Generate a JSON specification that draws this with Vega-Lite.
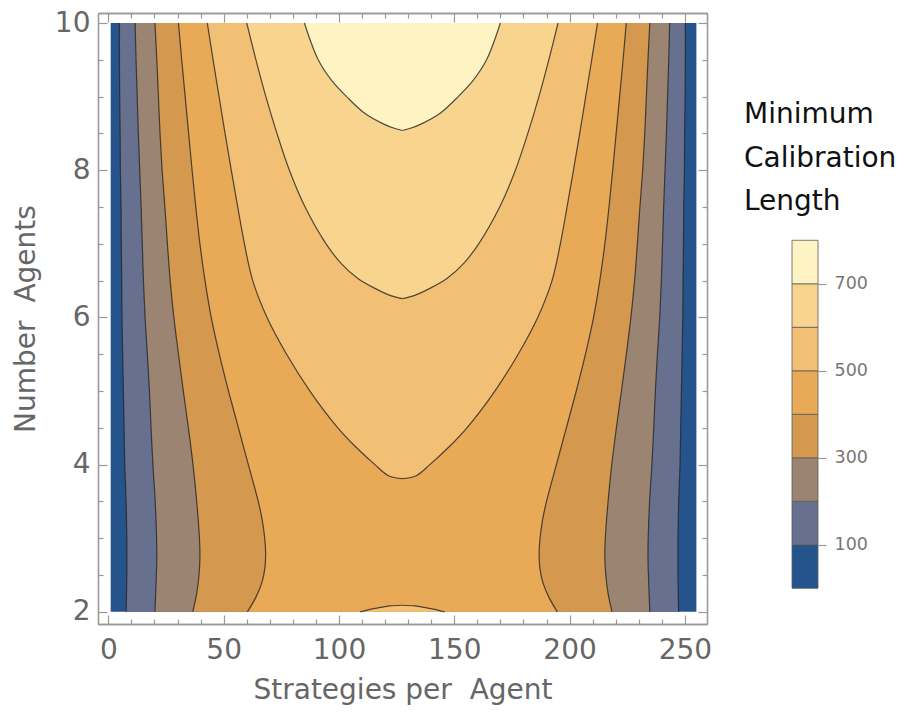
{
  "$schema": "https://vega.github.io/schema/vega-lite/v6.json",
  "padding": {"left": 12, "top": 9, "right": 5, "bottom": 5},
  "bounds": "flush",
  "spacing": 85,
  "config": {
    "view": {"stroke": null},
    "axis": {"domainColor": "#999", "domainWidth": 1.3, "tickColor": "#999", "tickWidth": 1.2, "grid": false,
             "labelFont": "DejaVu Sans", "titleFont": "DejaVu Sans", "labelColor": "#666", "titleColor": "#666",
             "titleFontWeight": "normal", "labelOverlap": false, "labelFlush": false}
  },
  "hconcat": [
    {
      "width": 609,
      "height": 611,
      "data": {"values": [
        {"part": "b0", "level": 0, "y": 2, "xl": 1, "xr": 255},
        {"part": "b0", "level": 0, "y": 10, "xl": 1, "xr": 255},

        {"part": "b100", "level": 100, "y": 2, "xl": 7.7, "xr": 247.3},
        {"part": "b100", "level": 100, "y": 2.5, "xl": 8.0, "xr": 247.0},
        {"part": "b100", "level": 100, "y": 3, "xl": 8.0, "xr": 247.0},
        {"part": "b100", "level": 100, "y": 3.5, "xl": 7.7, "xr": 247.3},
        {"part": "b100", "level": 100, "y": 4, "xl": 7.1, "xr": 247.9},
        {"part": "b100", "level": 100, "y": 4.5, "xl": 6.8, "xr": 248.2},
        {"part": "b100", "level": 100, "y": 5, "xl": 6.5, "xr": 248.5},
        {"part": "b100", "level": 100, "y": 5.5, "xl": 6.2, "xr": 248.8},
        {"part": "b100", "level": 100, "y": 6, "xl": 5.9, "xr": 249.1},
        {"part": "b100", "level": 100, "y": 6.5, "xl": 5.8, "xr": 249.2},
        {"part": "b100", "level": 100, "y": 7, "xl": 5.6, "xr": 249.4},
        {"part": "b100", "level": 100, "y": 7.5, "xl": 5.5, "xr": 249.5},
        {"part": "b100", "level": 100, "y": 8, "xl": 5.2, "xr": 249.8},
        {"part": "b100", "level": 100, "y": 8.5, "xl": 5.1, "xr": 249.9},
        {"part": "b100", "level": 100, "y": 9, "xl": 4.9, "xr": 250.1},
        {"part": "b100", "level": 100, "y": 9.5, "xl": 4.8, "xr": 250.2},
        {"part": "b100", "level": 100, "y": 10, "xl": 4.8, "xr": 250.2},

        {"part": "b200", "level": 200, "y": 2, "xl": 20.2, "xr": 234.8},
        {"part": "b200", "level": 200, "y": 2.5, "xl": 20.8, "xr": 234.2},
        {"part": "b200", "level": 200, "y": 2.75, "xl": 21.0, "xr": 234.0},
        {"part": "b200", "level": 200, "y": 3, "xl": 20.9, "xr": 234.1},
        {"part": "b200", "level": 200, "y": 3.5, "xl": 20.3, "xr": 234.7},
        {"part": "b200", "level": 200, "y": 4, "xl": 19.3, "xr": 235.7},
        {"part": "b200", "level": 200, "y": 4.5, "xl": 18.5, "xr": 236.5},
        {"part": "b200", "level": 200, "y": 5, "xl": 17.8, "xr": 237.2},
        {"part": "b200", "level": 200, "y": 5.5, "xl": 16.9, "xr": 238.1},
        {"part": "b200", "level": 200, "y": 6, "xl": 15.9, "xr": 239.1},
        {"part": "b200", "level": 200, "y": 6.5, "xl": 15.2, "xr": 239.8},
        {"part": "b200", "level": 200, "y": 7, "xl": 14.7, "xr": 240.3},
        {"part": "b200", "level": 200, "y": 7.5, "xl": 14.2, "xr": 240.8},
        {"part": "b200", "level": 200, "y": 8, "xl": 13.6, "xr": 241.4},
        {"part": "b200", "level": 200, "y": 8.5, "xl": 13.0, "xr": 242.0},
        {"part": "b200", "level": 200, "y": 9, "xl": 12.5, "xr": 242.5},
        {"part": "b200", "level": 200, "y": 9.5, "xl": 12.0, "xr": 243.0},
        {"part": "b200", "level": 200, "y": 10, "xl": 11.6, "xr": 243.4},

        {"part": "b300", "level": 300, "y": 2, "xl": 36.6, "xr": 218.4},
        {"part": "b300", "level": 300, "y": 2.25, "xl": 38.3, "xr": 216.7},
        {"part": "b300", "level": 300, "y": 2.5, "xl": 39.3, "xr": 215.7},
        {"part": "b300", "level": 300, "y": 2.75, "xl": 39.7, "xr": 215.3},
        {"part": "b300", "level": 300, "y": 3, "xl": 39.5, "xr": 215.5},
        {"part": "b300", "level": 300, "y": 3.5, "xl": 38.3, "xr": 216.7},
        {"part": "b300", "level": 300, "y": 4, "xl": 36.7, "xr": 218.3},
        {"part": "b300", "level": 300, "y": 4.5, "xl": 34.7, "xr": 220.3},
        {"part": "b300", "level": 300, "y": 5, "xl": 32.5, "xr": 222.5},
        {"part": "b300", "level": 300, "y": 5.5, "xl": 30.4, "xr": 224.6},
        {"part": "b300", "level": 300, "y": 6, "xl": 28.4, "xr": 226.6},
        {"part": "b300", "level": 300, "y": 6.5, "xl": 26.8, "xr": 228.2},
        {"part": "b300", "level": 300, "y": 7, "xl": 25.6, "xr": 229.4},
        {"part": "b300", "level": 300, "y": 7.5, "xl": 24.5, "xr": 230.5},
        {"part": "b300", "level": 300, "y": 8, "xl": 23.3, "xr": 231.7},
        {"part": "b300", "level": 300, "y": 8.5, "xl": 22.4, "xr": 232.6},
        {"part": "b300", "level": 300, "y": 9, "xl": 21.7, "xr": 233.3},
        {"part": "b300", "level": 300, "y": 9.5, "xl": 21.0, "xr": 234.0},
        {"part": "b300", "level": 300, "y": 10, "xl": 20.2, "xr": 234.8},

        {"part": "b400", "level": 400, "y": 2, "xl": 60.3, "xr": 194.7},
        {"part": "b400", "level": 400, "y": 2.2, "xl": 64.0, "xr": 191.0},
        {"part": "b400", "level": 400, "y": 2.4, "xl": 66.6, "xr": 188.4},
        {"part": "b400", "level": 400, "y": 2.6, "xl": 67.9, "xr": 187.1},
        {"part": "b400", "level": 400, "y": 2.8, "xl": 68.2, "xr": 186.8},
        {"part": "b400", "level": 400, "y": 3, "xl": 67.8, "xr": 187.2},
        {"part": "b400", "level": 400, "y": 3.25, "xl": 66.7, "xr": 188.3},
        {"part": "b400", "level": 400, "y": 3.5, "xl": 65.0, "xr": 190.0},
        {"part": "b400", "level": 400, "y": 4, "xl": 60.7, "xr": 194.3},
        {"part": "b400", "level": 400, "y": 4.5, "xl": 56.4, "xr": 198.6},
        {"part": "b400", "level": 400, "y": 5, "xl": 52.1, "xr": 202.9},
        {"part": "b400", "level": 400, "y": 5.5, "xl": 48.1, "xr": 206.9},
        {"part": "b400", "level": 400, "y": 6, "xl": 44.6, "xr": 210.4},
        {"part": "b400", "level": 400, "y": 6.5, "xl": 41.9, "xr": 213.1},
        {"part": "b400", "level": 400, "y": 7, "xl": 39.7, "xr": 215.3},
        {"part": "b400", "level": 400, "y": 7.5, "xl": 37.9, "xr": 217.1},
        {"part": "b400", "level": 400, "y": 8, "xl": 36.3, "xr": 218.7},
        {"part": "b400", "level": 400, "y": 8.5, "xl": 34.8, "xr": 220.2},
        {"part": "b400", "level": 400, "y": 9, "xl": 33.3, "xr": 221.7},
        {"part": "b400", "level": 400, "y": 9.5, "xl": 31.8, "xr": 223.2},
        {"part": "b400", "level": 400, "y": 10, "xl": 30.4, "xr": 224.6},

        {"part": "b500", "level": 500, "y": 3.81, "xl": 127.5, "xr": 127.5},
        {"part": "b500", "level": 500, "y": 3.85, "xl": 121.5, "xr": 133.5},
        {"part": "b500", "level": 500, "y": 4.0, "xl": 115.6, "xr": 139.4},
        {"part": "b500", "level": 500, "y": 4.25, "xl": 107.0, "xr": 148.0},
        {"part": "b500", "level": 500, "y": 4.5, "xl": 99.5, "xr": 155.5},
        {"part": "b500", "level": 500, "y": 5, "xl": 87.4, "xr": 167.6},
        {"part": "b500", "level": 500, "y": 5.5, "xl": 77.3, "xr": 177.7},
        {"part": "b500", "level": 500, "y": 6, "xl": 68.8, "xr": 186.2},
        {"part": "b500", "level": 500, "y": 6.5, "xl": 62.6, "xr": 192.4},
        {"part": "b500", "level": 500, "y": 7, "xl": 59.0, "xr": 196.0},
        {"part": "b500", "level": 500, "y": 7.5, "xl": 56.1, "xr": 198.9},
        {"part": "b500", "level": 500, "y": 8, "xl": 53.3, "xr": 201.7},
        {"part": "b500", "level": 500, "y": 8.5, "xl": 50.6, "xr": 204.4},
        {"part": "b500", "level": 500, "y": 9, "xl": 48.0, "xr": 207.0},
        {"part": "b500", "level": 500, "y": 9.5, "xl": 45.4, "xr": 209.6},
        {"part": "b500", "level": 500, "y": 10, "xl": 42.9, "xr": 212.1},

        {"part": "s500", "level": 500, "y": 2, "xl": 109.2, "xr": 145.8},
        {"part": "s500", "level": 500, "y": 2.03, "xl": 113.0, "xr": 142.0},
        {"part": "s500", "level": 500, "y": 2.06, "xl": 118.0, "xr": 137.0},
        {"part": "s500", "level": 500, "y": 2.08, "xl": 122.0, "xr": 133.0},
        {"part": "s500", "level": 500, "y": 2.09, "xl": 127.5, "xr": 127.5},

        {"part": "b600", "level": 600, "y": 6.255, "xl": 127.5, "xr": 127.5},
        {"part": "b600", "level": 600, "y": 6.3, "xl": 122.1, "xr": 132.9},
        {"part": "b600", "level": 600, "y": 6.395, "xl": 115.6, "xr": 139.4},
        {"part": "b600", "level": 600, "y": 6.53, "xl": 108.2, "xr": 146.8},
        {"part": "b600", "level": 600, "y": 6.735, "xl": 100.9, "xr": 154.1},
        {"part": "b600", "level": 600, "y": 7, "xl": 94.4, "xr": 160.6},
        {"part": "b600", "level": 600, "y": 7.5, "xl": 85.3, "xr": 169.7},
        {"part": "b600", "level": 600, "y": 8, "xl": 78.5, "xr": 176.5},
        {"part": "b600", "level": 600, "y": 8.5, "xl": 73.1, "xr": 181.9},
        {"part": "b600", "level": 600, "y": 9, "xl": 68.3, "xr": 186.7},
        {"part": "b600", "level": 600, "y": 9.5, "xl": 64.0, "xr": 191.0},
        {"part": "b600", "level": 600, "y": 10, "xl": 60.0, "xr": 195.0},

        {"part": "b700", "level": 700, "y": 8.54, "xl": 127.5, "xr": 127.5},
        {"part": "b700", "level": 700, "y": 8.57, "xl": 124.0, "xr": 131.0},
        {"part": "b700", "level": 700, "y": 8.63, "xl": 119.2, "xr": 135.8},
        {"part": "b700", "level": 700, "y": 8.77, "xl": 111.3, "xr": 143.7},
        {"part": "b700", "level": 700, "y": 9.0, "xl": 103.3, "xr": 151.7},
        {"part": "b700", "level": 700, "y": 9.22, "xl": 96.8, "xr": 158.2},
        {"part": "b700", "level": 700, "y": 9.5, "xl": 91.0, "xr": 164.0},
        {"part": "b700", "level": 700, "y": 10, "xl": 85.0, "xr": 170.0}
      ]},
      "resolve": {"axis": {"x": "independent", "y": "independent"}},
      "layer": [
        {
          "transform": [{"filter": "datum.level === 0"}],
          "mark": {"type": "area", "orient": "horizontal", "interpolate": "linear"},
          "encoding": {
            "y": {"field": "y", "type": "quantitative",
                  "scale": {"domain": [1.835, 10.136], "nice": false, "zero": false},
                  "axis": {"orient": "left", "values": [2, 4, 6, 8, 10], "format": "d", "tickSize": -9,
                           "labelFontSize": 28, "labelPadding": 17,
                           "title": "Number\u00a0 Agents", "titleFontSize": 28, "titlePadding": 14}},
            "x": {"field": "xl", "type": "quantitative",
                  "scale": {"domain": [-4.5, 259.6], "nice": false, "zero": false},
                  "axis": {"orient": "bottom", "values": [0, 50, 100, 150, 200, 250], "format": "d", "tickSize": -9,
                           "labelFontSize": 28, "labelPadding": 21,
                           "title": "Strategies per\u00a0 Agent", "titleFontSize": 28, "titlePadding": 12}},
            "x2": {"field": "xr"},
            "color": {"field": "level", "type": "ordinal",
                      "scale": {"domain": [0, 100, 200, 300, 400, 500, 600, 700],
                                "range": ["#25538b", "#67708f", "#9c8472", "#d4994f", "#e8aa57", "#f2c074", "#f9d48e", "#fef3c2"]},
                      "legend": null}
          }
        },
        {
          "transform": [{"filter": "datum.level > 0"}],
          "mark": {"type": "area", "orient": "horizontal", "interpolate": "catmull-rom"},
          "encoding": {
            "y": {"field": "y", "type": "quantitative",
                  "scale": {"domain": [1.835, 10.136], "nice": false, "zero": false},
                  "axis": {"orient": "left", "values": [2.5, 3, 3.5, 4.5, 5, 5.5, 6.5, 7, 7.5, 8.5, 9, 9.5],
                           "tickSize": -5, "labels": false, "title": null}},
            "x": {"field": "xl", "type": "quantitative",
                  "scale": {"domain": [-4.5, 259.6], "nice": false, "zero": false},
                  "axis": {"orient": "bottom", "values": [10, 20, 30, 40, 60, 70, 80, 90, 110, 120, 130, 140, 160, 170, 180, 190, 210, 220, 230, 240],
                           "tickSize": -5, "labels": false, "title": null}},
            "x2": {"field": "xr"},
            "color": {"field": "level", "type": "ordinal",
                      "scale": {"domain": [0, 100, 200, 300, 400, 500, 600, 700],
                                "range": ["#25538b", "#67708f", "#9c8472", "#d4994f", "#e8aa57", "#f2c074", "#f9d48e", "#fef3c2"]},
                      "legend": null},
            "detail": {"field": "part"}
          }
        },
        {
          "transform": [{"filter": "datum.level > 0"}],
          "mark": {"type": "line", "interpolate": "catmull-rom", "stroke": "#262626", "strokeWidth": 1.2, "strokeOpacity": 0.8},
          "encoding": {
            "y": {"field": "y", "type": "quantitative",
                  "scale": {"domain": [1.835, 10.136], "nice": false, "zero": false},
                  "axis": {"orient": "right", "values": [2, 4, 6, 8, 10], "tickSize": -9, "labels": false, "title": null}},
            "x": {"field": "xl", "type": "quantitative",
                  "scale": {"domain": [-4.5, 259.6], "nice": false, "zero": false},
                  "axis": {"orient": "top", "values": [0, 50, 100, 150, 200, 250], "tickSize": -9, "labels": false, "title": null}},
            "detail": {"field": "part"},
            "order": {"field": "y", "type": "quantitative"}
          }
        },
        {
          "transform": [{"filter": "datum.level > 0"}],
          "mark": {"type": "line", "interpolate": "catmull-rom", "stroke": "#262626", "strokeWidth": 1.2, "strokeOpacity": 0.8},
          "encoding": {
            "y": {"field": "y", "type": "quantitative",
                  "scale": {"domain": [1.835, 10.136], "nice": false, "zero": false},
                  "axis": {"orient": "right", "values": [2.5, 3, 3.5, 4.5, 5, 5.5, 6.5, 7, 7.5, 8.5, 9, 9.5],
                           "tickSize": -5, "labels": false, "title": null}},
            "x": {"field": "xr", "type": "quantitative",
                  "scale": {"domain": [-4.5, 259.6], "nice": false, "zero": false},
                  "axis": {"orient": "top", "values": [10, 20, 30, 40, 60, 70, 80, 90, 110, 120, 130, 140, 160, 170, 180, 190, 210, 220, 230, 240],
                           "tickSize": -5, "labels": false, "title": null}},
            "detail": {"field": "part"},
            "order": {"field": "y", "type": "quantitative"}
          }
        }
      ]
    },
    {
      "width": 26,
      "height": 611,
      "data": {"values": [
        {"lo": 0, "hi": 100, "level": 0},
        {"lo": 100, "hi": 200, "level": 100},
        {"lo": 200, "hi": 300, "level": 200},
        {"lo": 300, "hi": 400, "level": 300},
        {"lo": 400, "hi": 500, "level": 400},
        {"lo": 500, "hi": 600, "level": 500},
        {"lo": 600, "hi": 700, "level": 600},
        {"lo": 700, "hi": 800, "level": 700}
      ]},
      "title": {"text": ["Minimum", "Calibration", "Length"], "orient": "top", "anchor": "start", "frame": "group",
                "offset": 0, "dx": -48, "dy": 203, "align": "left",
                "font": "DejaVu Sans", "fontSize": 28, "fontWeight": "normal", "color": "#111", "lineHeight": 43.5},
      "mark": {"type": "rect", "stroke": "#5a5a5a", "strokeWidth": 0.8},
      "encoding": {
        "y": {"field": "lo", "type": "quantitative",
              "scale": {"domain": [-82.1, 1322.5], "nice": false, "zero": false},
              "axis": {"orient": "right", "values": [100, 300, 500, 700], "domain": false, "tickSize": 8,
                       "labelFontSize": 17.5, "labelColor": "#777", "labelPadding": 8, "title": null}},
        "y2": {"field": "hi"},
        "color": {"field": "level", "type": "ordinal",
                  "scale": {"domain": [0, 100, 200, 300, 400, 500, 600, 700],
                            "range": ["#25538b", "#67708f", "#9c8472", "#d4994f", "#e8aa57", "#f2c074", "#f9d48e", "#fef3c2"]},
                  "legend": null}
      }
    }
  ]
}
